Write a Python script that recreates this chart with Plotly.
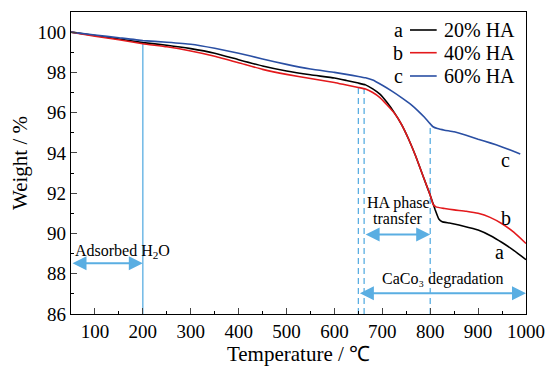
import plotly.graph_objects as go

# ---- data ----
temp_a = [50, 100, 150, 200, 250, 300, 350, 400, 450, 500, 550, 600, 625, 650, 665, 680, 695, 710, 725, 740, 755, 770, 785, 800, 810, 818, 825, 840, 860, 880, 900, 925, 950, 975, 1000]
weight_a = [100, 99.83, 99.66, 99.48, 99.35, 99.18, 98.95, 98.63, 98.32, 98.07, 97.88, 97.72, 97.6, 97.47, 97.38, 97.18, 96.92, 96.5, 96.0, 95.42, 94.68, 93.82, 92.85, 91.9, 91.2, 90.72, 90.58, 90.52, 90.42, 90.3, 90.17, 89.9, 89.55, 89.15, 88.7]

temp_b = [50, 100, 150, 200, 250, 300, 350, 400, 450, 500, 550, 600, 625, 650, 665, 680, 695, 710, 725, 740, 755, 770, 785, 800, 806, 812, 830, 850, 875, 900, 925, 950, 975, 1000]
weight_b = [100, 99.8, 99.62, 99.42, 99.27, 99.06, 98.8, 98.48, 98.15, 97.9, 97.7, 97.5, 97.37, 97.25, 97.17, 97.0, 96.75, 96.38, 95.98, 95.42, 94.68, 93.82, 92.85, 91.9, 91.45, 91.32, 91.24, 91.17, 91.1, 91.0, 90.8, 90.48, 90.05, 89.5]

temp_c = [50, 100, 150, 200, 250, 300, 350, 400, 450, 500, 550, 600, 625, 650, 665, 680, 700, 720, 740, 760, 775, 788, 798, 806, 815, 830, 850, 875, 900, 925, 950, 970, 988]
weight_c = [100, 99.86, 99.72, 99.58, 99.5, 99.4, 99.2, 98.95, 98.67, 98.4, 98.17, 98.0, 97.9, 97.8, 97.73, 97.62, 97.36, 97.07, 96.75, 96.4, 96.08, 95.77, 95.5, 95.3, 95.21, 95.13, 95.05, 94.88, 94.68, 94.5, 94.3, 94.12, 93.95]

series_names = ["20% HA", "40% HA", "60% HA"]
series_letters = ["a", "b", "c"]
series_colors = ["#000000", "#e3191c", "#2a4fa3"]

# guide lines
solid_guide_t = [200]
solid_guide_top = [99.46]
dashed_guide_t = [650, 662, 800]
dashed_guide_top = [97.27, 97.2, 95.3]

# arrows: (start, end, y)
arrow_starts = [50, 662, 650]
arrow_ends = [200, 800, 1000]
arrow_y = [88.52, 89.95, 87.03]

xticks = [100, 200, 300, 400, 500, 600, 700, 800, 900, 1000]
yticks = [86, 88, 90, 92, 94, 96, 98, 100]

FONT = "Liberation Serif, Times New Roman, serif"
GUIDE = "#5aaee2"

fig = go.Figure()
for t, w, n, c in zip([temp_a, temp_b, temp_c], [weight_a, weight_b, weight_c], series_names, series_colors):
    fig.add_trace(go.Scatter(x=t, y=w, mode="lines", name=n, showlegend=False,
                             line=dict(color=c, width=1.6, shape="spline", smoothing=0.4)))

for t, top in zip(solid_guide_t, solid_guide_top):
    fig.add_shape(type="line", x0=t, x1=t, y0=86, y1=top, xref="x", yref="y",
                  line=dict(color=GUIDE, width=1.3), layer="below")
for t, top in zip(dashed_guide_t, dashed_guide_top):
    fig.add_shape(type="line", x0=t, x1=t, y0=86, y1=top, xref="x", yref="y",
                  line=dict(color=GUIDE, width=1.3, dash="6px,4px"), layer="below")

for s, e, y in zip(arrow_starts, arrow_ends, arrow_y):
    fig.add_annotation(x=e, y=y, ax=s, ay=y, xref="x", yref="y", axref="x", ayref="y",
                       text="", showarrow=True, arrowhead=2, startarrowhead=2,
                       arrowside="end+start", arrowsize=1.4, startarrowsize=1.4,
                       arrowwidth=2, arrowcolor=GUIDE)

text_font = dict(family=FONT, size=16, color="#000")
fig.add_annotation(x=158, y=89.12, text="Adsorbed H<sub>2</sub>O", showarrow=False,
                   xref="x", yref="y", font=text_font)
fig.add_annotation(x=734, y=91.5, text="HA phase", showarrow=False,
                   xref="x", yref="y", font=text_font)
fig.add_annotation(x=732, y=90.76, text="transfer", showarrow=False,
                   xref="x", yref="y", font=text_font)
fig.add_annotation(x=826, y=87.73, text="CaCo₃ degradation", showarrow=False,
                   xref="x", yref="y", font=text_font)

# curve letters
label_font = dict(family=FONT, size=20, color="#000")
for lt, x, y in zip(series_letters, [945, 958, 958], [89.1, 90.76, 93.64]):
    fig.add_annotation(x=x, y=y, text=lt, showarrow=False, xref="x", yref="y", font=label_font)

# legend (letter, line sample, name) drawn in paper coordinates
legend_rows = [0.9404, 0.8652, 0.7881]
for lt, n, c, y in zip(series_letters, series_names, series_colors, legend_rows):
    fig.add_annotation(x=0.7187, y=y, text=lt, showarrow=False, xref="paper", yref="paper",
                       xanchor="center", yanchor="middle", font=label_font)
    fig.add_shape(type="line", xref="paper", yref="paper", x0=0.745, x1=0.8037, y0=y, y1=y,
                  line=dict(color=c, width=1.6))
    fig.add_annotation(x=0.8154, y=y, text=n, showarrow=False, xref="paper", yref="paper",
                       xanchor="left", yanchor="middle", font=label_font)

# page body has an 8px margin: shrink figure so the plot lands where the reference has it
fig.update_layout(
    width=550, height=359,
    margin=dict(l=63, r=32, t=4, b=53),
    paper_bgcolor="white", plot_bgcolor="white",
    font=dict(family=FONT, size=19, color="#000"),
    showlegend=False,
)
fig.update_xaxes(range=[50, 1000], tickvals=xticks, ticks="inside", ticklen=6, tickwidth=1.3,
                 showline=True, linecolor="#000", linewidth=1.3, mirror=True, showgrid=False,
                 zeroline=False, tickfont=dict(family=FONT, size=19),
                 minor=dict(dtick=50, tick0=50, ticks="inside", ticklen=3, tickcolor="#000"),
                 title=dict(text="Temperature / ℃", font=dict(family=FONT, size=21), standoff=3))
fig.update_yaxes(range=[86, 101], tickvals=yticks, ticks="inside", ticklen=6, tickwidth=1.3,
                 showline=True, linecolor="#000", linewidth=1.3, mirror=True, showgrid=False,
                 zeroline=False, tickfont=dict(family=FONT, size=19),
                 minor=dict(dtick=1, tick0=86, ticks="inside", ticklen=3, tickcolor="#000"),
                 title=dict(text="Weight / %", font=dict(family=FONT, size=21), standoff=5))

fig.write_html("out.html")
